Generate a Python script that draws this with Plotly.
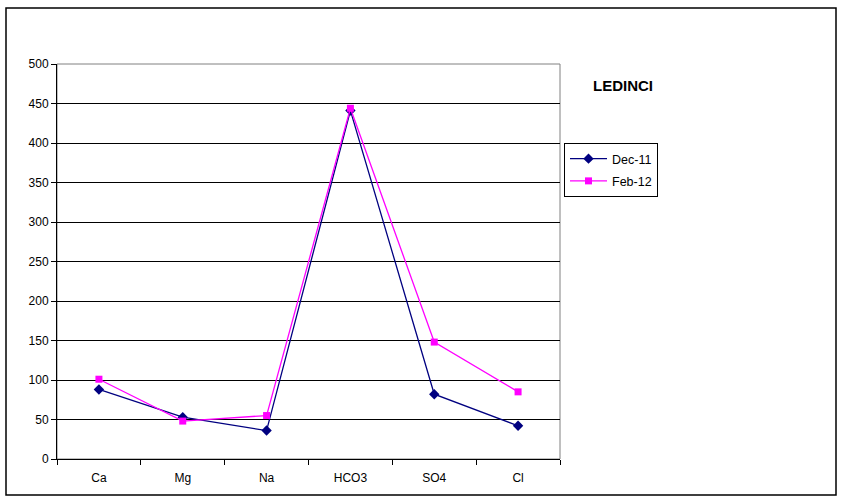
import plotly.graph_objects as go

categories = ["Ca", "Mg", "Na", "HCO3", "SO4", "Cl"]
dec_11 = [88, 53, 36, 441, 82, 42]
feb_12 = [101, 48, 55, 444, 148, 85]
y_ticks = list(range(0, 501, 50))

W, H = 841, 500
L, R, T, B = 57, 560, 64, 459

fig = go.Figure()
fig.add_trace(go.Scatter(x=categories, y=dec_11, name="Dec-11", mode="lines+markers",
                         legendgroup="a",
                         line=dict(color="#000080", width=1.3),
                         marker=dict(symbol="diamond", size=8, color="#000080")))
fig.add_trace(go.Scatter(x=categories, y=feb_12, name="Feb-12", mode="lines+markers",
                         legendgroup="b",
                         line=dict(color="#FF00FF", width=1.3),
                         marker=dict(symbol="square", size=7, color="#FF00FF")))

def px(x):
    return (x - L) / (R - L)

def py(y):
    return (B - y) / (B - T)

fig.update_layout(
    width=W, height=H,
    margin=dict(l=L, r=W - R, t=T, b=H - B),
    paper_bgcolor="white", plot_bgcolor="white",
    font=dict(family="Liberation Sans, Arial", size=12, color="black"),
    showlegend=True,
    legend=dict(x=px(564), y=py(143), xanchor="left", yanchor="top",
                bordercolor="black", borderwidth=1, bgcolor="white",
                font=dict(size=12.5), traceorder="grouped", tracegroupgap=3, itemwidth=37),
    xaxis=dict(type="category", showline=True, linecolor="black", linewidth=1,
               ticks="outside", tickson="boundaries", ticklen=5, tickcolor="black",
               ticklabelstandoff=8,
               showgrid=False, zeroline=False, range=[-0.5, 5.5], fixedrange=True),
    yaxis=dict(range=[0, 500], tickvals=y_ticks, showline=True, linecolor="black",
               linewidth=1, ticks="outside", ticklen=5, tickcolor="black",
               showgrid=True, gridcolor="black", gridwidth=1, zeroline=False,
               fixedrange=True),
    annotations=[dict(text="<b>LEDINCI</b>", x=px(623), y=py(86), xref="paper", yref="paper",
                      showarrow=False, font=dict(size=15), xanchor="center", yanchor="middle")],
    shapes=[
        dict(type="rect", xref="paper", yref="paper", x0=0, x1=1, y0=0, y1=1,
             line=dict(color="#808080", width=1), layer="below"),
        dict(type="rect", xref="paper", yref="paper", x0=px(6), x1=px(836), y0=py(495), y1=py(8),
             line=dict(color="black", width=1.5)),
    ],
)

fig.write_html(
    "out.html",
    config={"displayModeBar": False},
    post_script="document.body.style.margin='0';document.body.style.overflow='hidden';",
)
